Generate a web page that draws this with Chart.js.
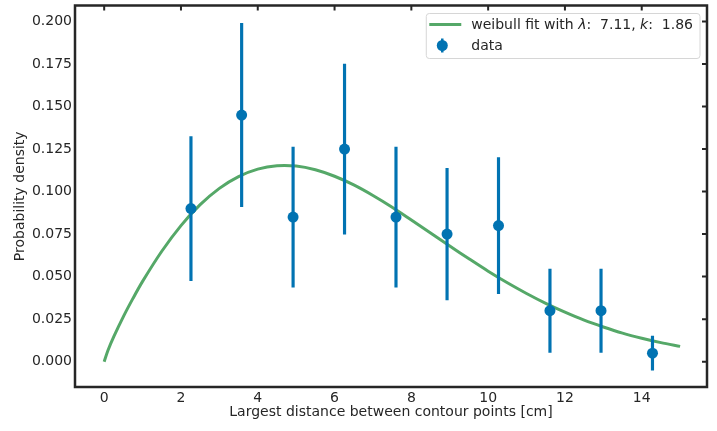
<!DOCTYPE html>
<html><head><meta charset="utf-8">
<script src="https://cdn.jsdelivr.net/npm/chart.js@4/dist/chart.umd.min.js"></script>
<style>html,body{margin:0;padding:0;background:#fff}#wrap{width:717px;height:431px}</style>
</head><body><div id="wrap"><canvas id="c" width="717" height="431"></canvas></div>
<script>
// ---- data ----
const binCenters = [2.26, 3.58, 4.92, 6.26, 7.60, 8.93, 10.27, 11.61, 12.94, 14.28];
const densities  = [0.090, 0.145, 0.085, 0.125, 0.085, 0.075, 0.080, 0.030, 0.030, 0.005];
const errors     = [0.0424, 0.0539, 0.0412, 0.0500, 0.0412, 0.0387, 0.0400, 0.0245, 0.0245, 0.0100];
const fitX = [0, 0.1, 0.25, 0.5, 0.75, 1, 1.5, 2, 2.5, 3, 3.5, 4, 4.5, 5, 5.5, 6, 6.5, 7, 7.5, 8, 8.5, 9, 9.5, 10, 10.5, 11, 11.5, 12, 12.5, 13, 13.5, 14, 14.5, 15];
const fitY = [0, 0.0067, 0.0147, 0.0265, 0.0372, 0.0472, 0.0649, 0.0800, 0.0923, 0.1019, 0.1088, 0.1132, 0.1152, 0.1150, 0.1128, 0.1090, 0.1039, 0.0977, 0.0908, 0.0833, 0.0757, 0.0680, 0.0605, 0.0532, 0.0464, 0.0401, 0.0343, 0.0291, 0.0244, 0.0204, 0.0168, 0.0138, 0.0112, 0.0090];
const fitLambda = "7.11";
const fitK = "1.86";
const xTicks = [0, 2, 4, 6, 8, 10, 12, 14];
const yTicks = [0, 0.025, 0.05, 0.075, 0.1, 0.125, 0.15, 0.175, 0.2];
const xTitle = "Largest distance between contour points [cm]";
const yTitle = "Probability density";

const BLUE = '#0173B2', GREEN = '#55A868', INK = '#262626';
const FONT = '"DejaVu Sans", sans-serif';

const framePlugin = {
  id: 'frame',
  afterDraw(chart) {
    const ctx = chart.ctx, a = chart.chartArea;
    const xs = chart.scales.x, ys = chart.scales.y;
    ctx.save();
    ctx.strokeStyle = INK;
    ctx.lineWidth = 2;
    ctx.beginPath();
    xTicks.forEach(v => { const px = xs.getPixelForValue(v); ctx.moveTo(px, a.top); ctx.lineTo(px, a.top + 5); });
    yTicks.forEach(v => { const py = ys.getPixelForValue(v); ctx.moveTo(a.right, py); ctx.lineTo(a.right - 5, py); });
    ctx.stroke();
    ctx.lineWidth = 2.5;
    ctx.strokeRect(a.left, a.top, a.right - a.left, a.bottom - a.top);
    // legend
    const normal = '14px ' + FONT, ital = 'italic 14px ' + FONT;
    const parts = [['weibull fit with ', normal], ['\u03bb', ital], [':  ' + fitLambda + ', ', normal], ['k', ital], [':  ' + fitK, normal]];
    let tw = 0;
    parts.forEach(p => { ctx.font = p[1]; tw += ctx.measureText(p[0]).width; });
    const boxR = a.right - 7, boxT = a.top + 8, boxH = 45;
    const boxW = 45 + tw + 7, boxL = boxR - boxW;
    ctx.beginPath();
    ctx.roundRect(boxL, boxT, boxW, boxH, 3);
    ctx.fillStyle = 'rgba(255,255,255,0.8)';
    ctx.fill();
    ctx.lineWidth = 1;
    ctx.strokeStyle = '#d6d6d6';
    ctx.stroke();
    const y1 = boxT + 11, y2 = boxT + 32;
    ctx.strokeStyle = GREEN; ctx.lineWidth = 3;
    ctx.beginPath(); ctx.moveTo(boxL + 3, y1); ctx.lineTo(boxL + 35, y1); ctx.stroke();
    ctx.strokeStyle = BLUE; ctx.lineWidth = 2.5;
    ctx.beginPath(); ctx.moveTo(boxL + 16, y2 - 7); ctx.lineTo(boxL + 16, y2 + 7); ctx.stroke();
    ctx.fillStyle = BLUE;
    ctx.beginPath(); ctx.arc(boxL + 16, y2, 5.5, 0, Math.PI * 2); ctx.fill();
    ctx.fillStyle = INK; ctx.textBaseline = 'middle'; ctx.textAlign = 'left';
    let tx = boxL + 45;
    parts.forEach(p => { ctx.font = p[1]; ctx.fillText(p[0], tx, y1 + 1); tx += ctx.measureText(p[0]).width; });
    ctx.font = normal;
    ctx.fillText('data', boxL + 45, y2 + 1);
    ctx.restore();
  }
};

new Chart(document.getElementById('c'), {
  type: 'scatter',
  data: {
    datasets: [
      {
        type: 'scatter', label: 'data', order: 0,
        data: binCenters.map((x, i) => ({ x: x, y: densities[i] })),
        backgroundColor: BLUE, borderWidth: 0, pointRadius: 5.5, pointHoverRadius: 5.5
      },
      {
        type: 'bar', label: 'errors', order: 1,
        data: binCenters.map((x, i) => ({ x: x, y: [densities[i] - errors[i], densities[i] + errors[i]] })),
        backgroundColor: BLUE, borderWidth: 0, barThickness: 2.5, grouped: false
      },
      {
        type: 'line', label: 'weibull fit', order: 2,
        data: fitX.map((x, i) => ({ x: x, y: fitY[i] })),
        borderColor: GREEN, borderWidth: 3, pointRadius: 0, fill: false,
        tension: 0.3, showLine: true
      }
    ]
  },
  options: {
    responsive: false, animation: false, devicePixelRatio: 1,
    layout: { padding: { left: 0, right: 10, top: 5, bottom: 0 } },
    plugins: { legend: { display: false }, tooltip: { enabled: false } },
    scales: {
      x: {
        type: 'linear', min: -0.76, max: 15.70, offset: false,
        grid: { display: false, drawTicks: false, tickLength: 0 }, border: { display: false },
        afterBuildTicks: s => { s.ticks = xTicks.map(v => ({ value: v })); },
        afterFit: s => { s.height = 44; s.paddingLeft = 0; s.paddingRight = 0; },
        ticks: { color: INK, font: { family: FONT, size: 14 }, padding: 3, maxRotation: 0, callback: v => String(v) },
        title: { display: true, text: xTitle, color: INK, font: { family: FONT, size: 14 }, padding: { top: 4, bottom: 10.6 } }
      },
      y: {
        type: 'linear', min: -0.0149, max: 0.2094,
        grid: { display: false, drawTicks: false, tickLength: 0 }, border: { display: false },
        afterBuildTicks: s => { s.ticks = yTicks.map(v => ({ value: v })); },
        afterFit: s => { s.width = 75; s.paddingTop = 0; s.paddingBottom = 0; },
        ticks: { color: INK, font: { family: FONT, size: 14 }, padding: 3, callback: v => Number(v).toFixed(3) },
        title: { display: true, text: yTitle, color: INK, font: { family: FONT, size: 14 }, padding: { top: 12, bottom: 0 } }
      }
    }
  },
  plugins: [framePlugin]
});
</script>
</body></html>
